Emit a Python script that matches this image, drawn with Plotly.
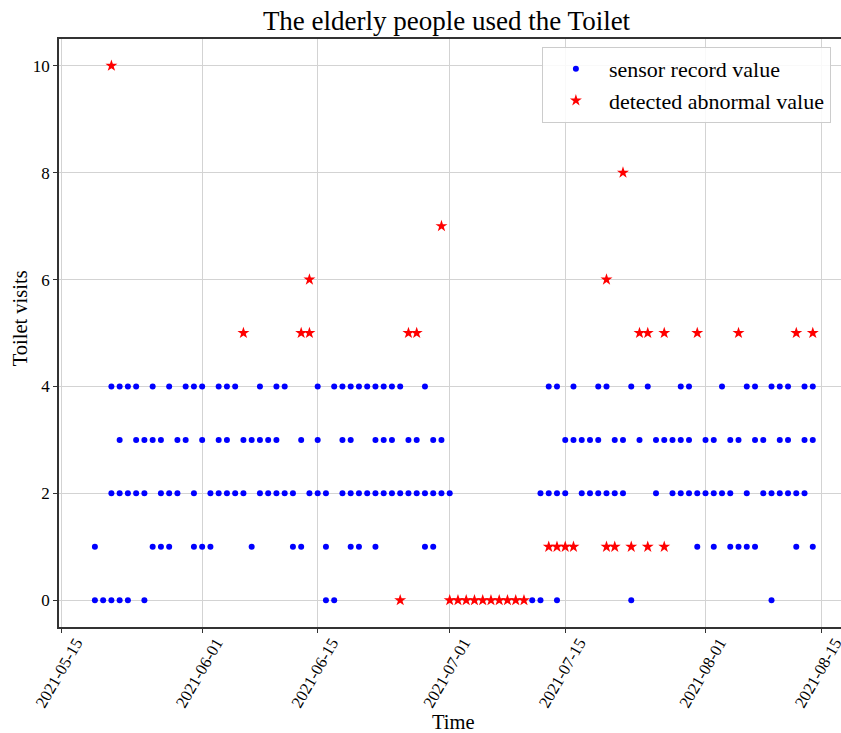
import pandas as pd
import plotly.graph_objects as go

START = pd.Timestamp("2021-05-15")

# Day offsets from START, grouped by recorded value (toilet visits)
sensor_days_0 = [4, 5, 6, 7, 8, 10, 32, 33, 57, 58, 60, 69, 86]
sensor_days_1 = [4, 11, 12, 13, 16, 17, 18, 23, 28, 29, 32, 35, 36, 38, 44, 45,
                 77, 79, 81, 82, 83, 84, 89, 91]
sensor_days_2 = [6, 7, 8, 9, 10, 12, 13, 14, 16, 18, 19, 20, 21, 22,
                 24, 25, 26, 27, 28, 30, 31, 32, 34, 35, 36, 37, 38, 39, 40, 41,
                 42, 43, 44, 45, 46, 47,
                 58, 59, 60, 61, 63, 64, 65, 66, 67, 68,
                 72, 74, 75, 76, 77, 78, 79, 80, 81, 83, 85, 86, 87, 88, 89, 90]
sensor_days_3 = [7, 9, 10, 11, 12, 14, 15, 17, 19, 20, 22, 23, 24, 25, 26, 29,
                 31, 34, 35, 38, 39, 40, 42, 43, 45, 46,
                 61, 62, 63, 64, 65, 67, 68,
                 70, 72, 73, 74, 75, 76, 78, 79, 81, 82, 84, 85, 87, 88, 90, 91]
sensor_days_4 = [6, 7, 8, 9, 11, 13, 15, 16, 17, 19, 20, 21,
                 24, 26, 27, 31, 33, 34, 35, 36, 37, 38, 39, 40, 41, 44,
                 59, 60, 62, 65, 66,
                 69, 71, 75, 76, 80, 83, 84, 86, 87, 88, 90, 91]

abnormal_days_0 = [41, 47, 48, 49, 50, 51, 52, 53, 54, 55, 56]
abnormal_days_1 = [59, 60, 61, 62, 66, 67, 69, 71, 73]
abnormal_days_5 = [22, 29, 30, 42, 43, 70, 71, 73, 77, 82, 89, 91]
abnormal_days_6 = [30, 66]
abnormal_days_7 = [46]
abnormal_days_8 = [68]
abnormal_days_10 = [6]

x_tick_labels = ["2021-05-15", "2021-06-01", "2021-06-15", "2021-07-01",
                 "2021-07-15", "2021-08-01", "2021-08-15"]
y_tick_values = [0, 2, 4, 6, 8, 10]


def build(groups):
    xs, ys = [], []
    for value, days in groups:
        for d in days:
            xs.append(START + pd.Timedelta(days=d))
            ys.append(value)
    return xs, ys


sensor_x, sensor_y = build([(0, sensor_days_0), (1, sensor_days_1), (2, sensor_days_2),
                            (3, sensor_days_3), (4, sensor_days_4)])
abn_x, abn_y = build([(0, abnormal_days_0), (1, abnormal_days_1), (5, abnormal_days_5),
                      (6, abnormal_days_6), (7, abnormal_days_7), (8, abnormal_days_8),
                      (10, abnormal_days_10)])

FONT = "Liberation Serif, Times New Roman, serif"
W, H = 841, 733
ML, MR, MT, MB = 58.5, 0, 39, 105.5
PW, PH = W - ML - MR, H - MT - MB

fig = go.Figure()
fig.add_trace(go.Scatter(
    x=sensor_x, y=sensor_y, mode="markers", name="sensor record value",
    legendgroup="a",
    marker=dict(color="#0000ff", size=6, symbol="circle", line=dict(width=0)),
))
fig.add_trace(go.Scatter(
    x=abn_x, y=abn_y, mode="markers", name="detected abnormal value",
    legendgroup="b",
    marker=dict(color="#ff0000", size=9, symbol="star", line=dict(width=0)),
))

x_left = START + pd.Timedelta(days=-0.35)
x_right = START + pd.Timedelta(days=94.42)

fig.update_layout(
    width=W, height=H,
    margin=dict(l=ML, r=MR, t=MT, b=MB, autoexpand=False),
    paper_bgcolor="white", plot_bgcolor="white",
    font=dict(family=FONT, color="black"),
    title=dict(text="The elderly people used the Toilet", x=446.5 / W, xanchor="center",
               xref="container", y=1 - 21 / H, yref="container", yanchor="middle",
               font=dict(size=27, family=FONT, color="black")),
    legend=dict(x=(541.7 - ML) / PW, y=1 - (47 - MT) / PH, xanchor="left", yanchor="top",
                bgcolor="rgba(255,255,255,0.85)", bordercolor="#cccccc", borderwidth=1,
                font=dict(size=22, family=FONT, color="black"), itemwidth=56,
                tracegroupgap=0, traceorder="grouped"),
    showlegend=True,
    annotations=[
        dict(text="Time", x=(453 - ML) / PW, y=(MT + PH - 723) / PH, xref="paper", yref="paper",
             xanchor="center", yanchor="middle", showarrow=False,
             font=dict(size=20.5, family=FONT, color="black")),
        dict(text="Toilet visits", x=(19 - ML) / PW, y=(MT + PH - 319) / PH, xref="paper",
             yref="paper", xanchor="center", yanchor="middle", textangle=-90, showarrow=False,
             font=dict(size=20.5, family=FONT, color="black")),
    ],
)
fig.update_xaxes(
    type="date", range=[x_left, x_right], automargin=False,
    tickmode="array", tickvals=[pd.Timestamp(t) for t in x_tick_labels], ticktext=x_tick_labels,
    tickangle=-60, tickfont=dict(size=16.5, family=FONT, color="black"),
    ticklabelshift=14, ticklabelstandoff=-6, ticklabeloverflow="allow",
    ticks="outside", ticklen=4, tickcolor="#333333",
    showgrid=True, gridcolor="#d3d3d3", gridwidth=1.2,
    showline=True, linecolor="#333333", linewidth=1.5, mirror=True,
    zeroline=False,
)
fig.update_yaxes(
    range=[-0.5, 10.5], tickmode="array", tickvals=y_tick_values, automargin=False,
    tickfont=dict(size=17, family=FONT, color="black"),
    ticks="outside", ticklen=4, tickcolor="#333333",
    showgrid=True, gridcolor="#d3d3d3", gridwidth=1.2,
    showline=True, linecolor="#333333", linewidth=1.5, mirror=True,
    zeroline=False,
)

fig.write_html("out.html", config={"displayModeBar": False},
               post_script="document.body.style.margin='0';document.body.style.overflow='hidden';")
